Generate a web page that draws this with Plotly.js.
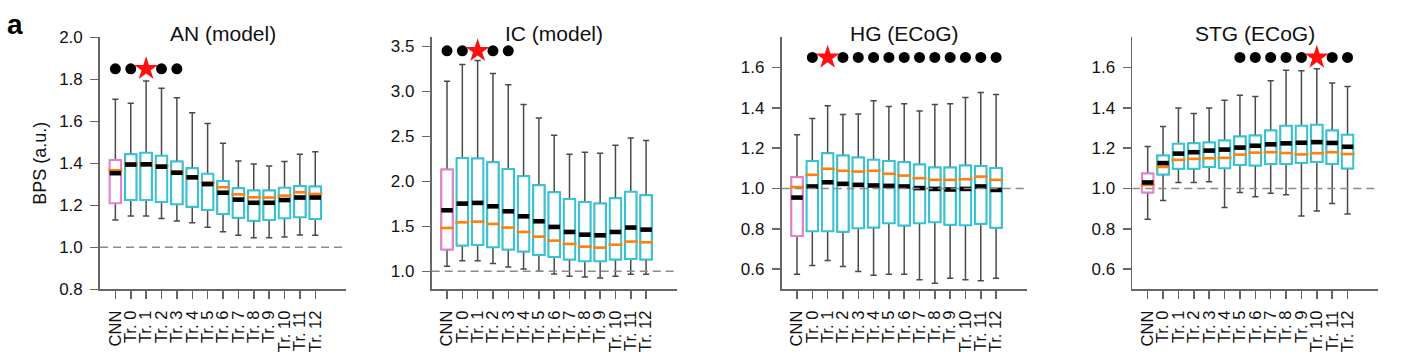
<!DOCTYPE html>
<html>
<head>
<meta charset="utf-8">
<script src="https://cdn.plot.ly/plotly-3.0.1.min.js"></script>
<style>
  html, body { margin: 0; padding: 0; background: #ffffff; }
  #chart { width: 1402px; height: 362px; }
</style>
</head>
<body>
<div id="chart"></div>
<script>
// ---------------- DATA ----------------
const categories = ['CNN', 'Tr. 0', 'Tr. 1', 'Tr. 2', 'Tr. 3', 'Tr. 4', 'Tr. 5', 'Tr. 6', 'Tr. 7', 'Tr. 8', 'Tr. 9', 'Tr. 10', 'Tr. 11', 'Tr. 12'];
const panelTitles = ['AN (model)', 'IC (model)', 'HG (ECoG)', 'STG (ECoG)'];
const yAxisTitle = 'BPS (a.u.)';
const panelLetter = 'a';
const baseline = 1.0;

// AN (model)
const anUpper  = [1.705, 1.686, 1.792, 1.757, 1.712, 1.641, 1.590, 1.495, 1.411, 1.397, 1.387, 1.408, 1.443, 1.455];
const anQ3     = [1.416, 1.443, 1.450, 1.436, 1.408, 1.376, 1.350, 1.316, 1.281, 1.270, 1.270, 1.284, 1.292, 1.289];
const anMedian = [1.353, 1.394, 1.395, 1.384, 1.355, 1.333, 1.301, 1.260, 1.227, 1.212, 1.212, 1.225, 1.237, 1.237];
const anMean   = [1.367, 1.398, 1.400, 1.389, 1.360, 1.336, 1.308, 1.286, 1.252, 1.238, 1.237, 1.246, 1.262, 1.254];
const anQ1     = [1.210, 1.225, 1.225, 1.216, 1.205, 1.193, 1.178, 1.159, 1.141, 1.127, 1.130, 1.138, 1.143, 1.135];
const anLower  = [1.130, 1.149, 1.149, 1.137, 1.125, 1.117, 1.095, 1.074, 1.057, 1.046, 1.046, 1.049, 1.059, 1.057];

// IC (model)
const icUpper  = [3.111, 3.297, 3.341, 3.197, 3.074, 2.852, 2.704, 2.511, 2.300, 2.322, 2.311, 2.400, 2.482, 2.452];
const icQ3     = [2.130, 2.260, 2.252, 2.211, 2.137, 2.056, 1.956, 1.878, 1.804, 1.771, 1.752, 1.811, 1.885, 1.844];
const icMedian = [1.678, 1.752, 1.760, 1.722, 1.667, 1.611, 1.556, 1.493, 1.437, 1.407, 1.400, 1.437, 1.486, 1.463];
const icMean   = [1.482, 1.544, 1.552, 1.526, 1.486, 1.437, 1.385, 1.341, 1.304, 1.274, 1.263, 1.296, 1.330, 1.322];
const icQ1     = [1.241, 1.286, 1.293, 1.267, 1.241, 1.219, 1.181, 1.159, 1.130, 1.111, 1.111, 1.130, 1.137, 1.130];
const icLower  = [1.056, 1.117, 1.117, 1.086, 1.049, 1.026, 1.000, 0.970, 0.944, 0.937, 0.926, 0.944, 0.967, 0.967];

// HG (ECoG)
const hgUpper  = [1.266, 1.347, 1.410, 1.367, 1.370, 1.435, 1.407, 1.420, 1.385, 1.417, 1.421, 1.451, 1.476, 1.466];
const hgQ3     = [1.056, 1.137, 1.175, 1.164, 1.154, 1.142, 1.137, 1.132, 1.119, 1.104, 1.104, 1.114, 1.112, 1.102];
const hgMedian = [0.955, 1.010, 1.031, 1.023, 1.018, 1.015, 1.013, 1.010, 1.002, 0.998, 0.995, 0.998, 1.010, 0.993];
const hgMean   = [1.007, 1.068, 1.098, 1.088, 1.084, 1.088, 1.073, 1.064, 1.051, 1.043, 1.043, 1.046, 1.059, 1.043];
const hgQ1     = [0.765, 0.788, 0.788, 0.786, 0.803, 0.806, 0.828, 0.816, 0.828, 0.833, 0.820, 0.818, 0.825, 0.805];
const hgLower  = [0.575, 0.618, 0.643, 0.613, 0.588, 0.570, 0.575, 0.575, 0.547, 0.530, 0.555, 0.547, 0.543, 0.555];

// STG (ECoG)
const stgUpper  = [1.208, 1.307, 1.399, 1.372, 1.399, 1.438, 1.463, 1.456, 1.534, 1.587, 1.584, 1.594, 1.523, 1.506];
const stgQ3     = [1.074, 1.164, 1.222, 1.225, 1.228, 1.238, 1.258, 1.263, 1.288, 1.311, 1.311, 1.316, 1.288, 1.266];
const stgMedian = [1.030, 1.126, 1.173, 1.180, 1.188, 1.193, 1.203, 1.212, 1.219, 1.224, 1.227, 1.230, 1.226, 1.207];
const stgMean   = [1.018, 1.107, 1.142, 1.147, 1.150, 1.152, 1.168, 1.178, 1.180, 1.176, 1.169, 1.175, 1.180, 1.171];
const stgQ1     = [0.980, 1.070, 1.098, 1.098, 1.107, 1.101, 1.117, 1.114, 1.122, 1.122, 1.126, 1.131, 1.121, 1.099];
const stgLower  = [0.848, 0.940, 1.030, 1.030, 1.033, 0.906, 0.980, 0.959, 0.977, 0.969, 0.864, 0.889, 0.925, 0.874];

// significance markers (dots) and best layer (star)
const anDots  = ['CNN', 'Tr. 0', 'Tr. 2', 'Tr. 3'];
const anStar  = ['Tr. 1'];
const anMarkY = 1.85;
const icDots  = ['CNN', 'Tr. 0', 'Tr. 2', 'Tr. 3'];
const icStar  = ['Tr. 1'];
const icMarkY = 3.45;
const hgDots  = ['Tr. 0', 'Tr. 2', 'Tr. 3', 'Tr. 4', 'Tr. 5', 'Tr. 6', 'Tr. 7', 'Tr. 8', 'Tr. 9', 'Tr. 10', 'Tr. 11', 'Tr. 12'];
const hgStar  = ['Tr. 1'];
const hgMarkY = 1.65;
const stgDots = ['Tr. 5', 'Tr. 6', 'Tr. 7', 'Tr. 8', 'Tr. 9', 'Tr. 11', 'Tr. 12'];
const stgStar = ['Tr. 10'];
const stgMarkY = 1.65;

// axis settings per panel
const yRanges = [[0.8, 2.0], [0.8, 3.6], [0.5, 1.75], [0.5, 1.75]];
const yTicks = [
  [0.8, 1.0, 1.2, 1.4, 1.6, 1.8, 2.0],
  [1.0, 1.5, 2.0, 2.5, 3.0, 3.5],
  [0.6, 0.8, 1.0, 1.2, 1.4, 1.6],
  [0.6, 0.8, 1.0, 1.2, 1.4, 1.6]
];

// ---------------- STYLE ----------------
const FONT = 'Liberation Sans, Arial, Helvetica, sans-serif';
const W = 1402, H = 362;
const CYAN = '#33c4d6';
const PINK = '#e67fd1';
const ORANGE = '#ff7f0e';
const WHISK = '#4a4a4a';
const AXIS = '#666666';
const BOXW = 0.74;
const LINE_EW = 1.4; // plotly draws line-ew markers 1.4*size long

const xPix = [[100, 346], [431.7, 676.7], [781.7, 1026.7], [1132.3, 1378.3]];
const yDom = [1 - 289.3 / H, 1 - 37.3 / H];

const panels = [
  {upper: anUpper, q3: anQ3, med: anMedian, mean: anMean, q1: anQ1, lower: anLower, dots: anDots, star: anStar, my: anMarkY},
  {upper: icUpper, q3: icQ3, med: icMedian, mean: icMean, q1: icQ1, lower: icLower, dots: icDots, star: icStar, my: icMarkY},
  {upper: hgUpper, q3: hgQ3, med: hgMedian, mean: hgMean, q1: hgQ1, lower: hgLower, dots: hgDots, star: hgStar, my: hgMarkY},
  {upper: stgUpper, q3: stgQ3, med: stgMedian, mean: stgMean, q1: stgQ1, lower: stgLower, dots: stgDots, star: stgStar, my: stgMarkY}
];

const traces = [];
const layout = {
  width: W, height: H,
  margin: {l: 0, r: 0, t: 0, b: 0},
  paper_bgcolor: '#ffffff', plot_bgcolor: 'rgba(0,0,0,0)',
  showlegend: false,
  boxmode: 'overlay',
  font: {family: FONT, color: '#111111'},
  shapes: [],
  annotations: []
};

panels.forEach((p, i) => {
  const n = i === 0 ? '' : String(i + 1);
  const xa = 'x' + n, ya = 'y' + n;

  const groups = [
    {idx: [0], color: PINK},
    {idx: categories.map((_, k) => k).slice(1), color: CYAN}
  ];
  // whiskers (and caps) in dark grey
  groups.forEach(g => {
    const pick = arr => g.idx.map(k => arr[k]);
    traces.push({
      type: 'box', xaxis: xa, yaxis: ya,
      x: pick(categories), q1: pick(p.q1), median: pick(p.med), q3: pick(p.q3),
      lowerfence: pick(p.lower), upperfence: pick(p.upper),
      width: BOXW, whiskerwidth: 0.55, boxpoints: false,
      line: {color: WHISK, width: 1.5}, fillcolor: 'rgba(0,0,0,0)',
      hoverinfo: 'skip'
    });
  });
  // coloured boxes on top (no whiskers of their own)
  groups.forEach(g => {
    const pick = arr => g.idx.map(k => arr[k]);
    traces.push({
      type: 'box', xaxis: xa, yaxis: ya,
      x: pick(categories), q1: pick(p.q1), median: pick(p.med), q3: pick(p.q3),
      lowerfence: pick(p.q1), upperfence: pick(p.q3),
      width: BOXW, whiskerwidth: 0, boxpoints: false,
      line: {color: g.color, width: 2}, fillcolor: '#ffffff',
      hoverinfo: 'skip'
    });
  });
  // mean (orange)
  traces.push({
    type: 'scatter', mode: 'markers', xaxis: xa, yaxis: ya,
    x: categories, y: p.mean, cliponaxis: false,
    marker: {symbol: 'line-ew', size: 14 / LINE_EW, color: ORANGE, line: {color: ORANGE, width: 2.6}},
    hoverinfo: 'skip'
  });
  // median (black thick)
  traces.push({
    type: 'scatter', mode: 'markers', xaxis: xa, yaxis: ya,
    x: categories, y: p.med, cliponaxis: false,
    marker: {symbol: 'line-ew', size: 11.5 / LINE_EW, color: '#000', line: {color: '#000000', width: 4.6}},
    hoverinfo: 'skip'
  });
  // significance dots
  traces.push({
    type: 'scatter', mode: 'markers', xaxis: xa, yaxis: ya,
    x: p.dots, y: p.dots.map(() => p.my), cliponaxis: false,
    marker: {symbol: 'circle', size: 11, color: '#000000'},
    hoverinfo: 'skip'
  });
  // star
  traces.push({
    type: 'scatter', mode: 'markers', xaxis: xa, yaxis: ya,
    x: p.star, y: p.star.map(() => p.my), cliponaxis: false,
    marker: {symbol: 'star', size: 18, color: '#ff1010', line: {width: 0}},
    hoverinfo: 'skip'
  });

  layout['xaxis' + n] = {
    domain: [xPix[i][0] / W, xPix[i][1] / W],
    anchor: ya,
    type: 'category',
    categoryorder: 'array', categoryarray: categories,
    range: [-1, 15],
    tickmode: 'array', tickvals: categories, ticktext: categories,
    tickangle: -90,
    showline: true, linecolor: AXIS, linewidth: 1.8,
    ticks: 'outside', ticklen: 8, tickwidth: 1.5, tickcolor: AXIS,
    ticklabelstandoff: 5,
    tickfont: {family: FONT, size: 16.5, color: '#111111'},
    showgrid: false, zeroline: false, fixedrange: true
  };
  layout['yaxis' + n] = {
    domain: yDom,
    anchor: xa,
    range: yRanges[i],
    tickmode: 'array', tickvals: yTicks[i], ticktext: yTicks[i].map(v => v.toFixed(1)),
    showline: true, linecolor: AXIS, linewidth: 1.8,
    ticks: 'outside', ticklen: 8, tickwidth: 1.5, tickcolor: AXIS,
    ticklabelstandoff: 4,
    tickfont: {family: FONT, size: 17, color: '#111111'},
    showgrid: false, zeroline: false, fixedrange: true
  };
  if (i === 0) {
    layout['yaxis' + n].title = {text: yAxisTitle, font: {family: FONT, size: 18, color: '#111111'}, standoff: 8};
  }

  layout.shapes.push({
    type: 'line', layer: 'above',
    xref: xa + ' domain', x0: 0, x1: 1,
    yref: ya, y0: baseline, y1: baseline,
    line: {color: '#8a8a8a', width: 1.6, dash: '8px,5px'}
  });

  layout.annotations.push({
    text: panelTitles[i], xref: 'paper', yref: 'paper',
    x: (xPix[i][0] + xPix[i][1]) / 2 / W, y: 1 - 33 / H,
    xanchor: 'center', yanchor: 'middle', showarrow: false,
    font: {family: FONT, size: 21, color: '#111111'}
  });
});

layout.annotations.push({
  text: '<b>' + panelLetter + '</b>', xref: 'paper', yref: 'paper',
  x: 15 / W, y: 1 - 24 / H, xanchor: 'center', yanchor: 'middle', showarrow: false,
  font: {family: FONT, size: 28, color: '#000000'}
});

Plotly.newPlot('chart', traces, layout, {staticPlot: true, displayModeBar: false});
</script>
</body>
</html>
